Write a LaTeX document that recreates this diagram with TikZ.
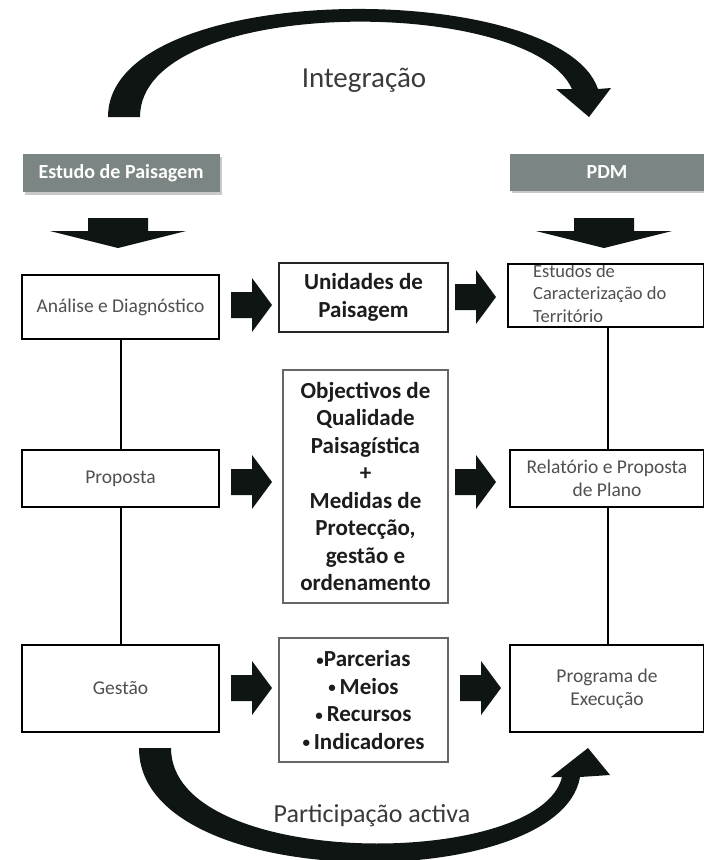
\documentclass[tikz,border=0pt]{standalone}
\usepackage{fontspec}
\setmainfont{Carlito}
\usetikzlibrary{calc,shadows}
\definecolor{hdrgrey}{HTML}{7B8583}
\definecolor{ink}{HTML}{0E1512}
\definecolor{txt}{HTML}{505050}
\definecolor{btxt}{HTML}{1C1C1C}
\definecolor{captxt}{HTML}{3A3A3A}
\newcommand\myblt{{\fontsize{15}{15}\selectfont\raisebox{1.5pt}{•}}}
% right-pointing block arrow: name, tip position
\newcommand\rblock[2]{%
  \coordinate (#1) at #2;
  \fill[ink] ($(#1)+(-41,-13)$) -- ($(#1)+(-20,-13)$) -- ($(#1)+(-20,-27)$) -- (#1)
    -- ($(#1)+(-20,27)$) -- ($(#1)+(-20,13)$) -- ($(#1)+(-41,13)$) -- cycle;}
% downward block arrow: name, tip position
\newcommand\dblock[2]{%
  \coordinate (#1) at #2;
  \fill[ink] ($(#1)+(-30,-30)$) -- ($(#1)+(30,-30)$) -- ($(#1)+(30,-17)$) -- ($(#1)+(68,-17)$)
    -- (#1) -- ($(#1)+(-68,-17)$) -- ($(#1)+(-30,-17)$) -- cycle;}
\begin{document}
\begin{tikzpicture}[x=1pt,y=-1pt,
  sidebox/.style={draw=black, line width=2.6pt, fill=white, inner sep=0pt, text=txt,
    font=\fontsize{19.5}{23}\selectfont, align=center},
  midbox/.style={draw=black!85, line width=2.2pt, fill=white, inner sep=0pt, text=btxt,
    font=\bfseries\fontsize{23}{28}\selectfont, align=center},
  thinbox/.style={draw=black!60, line width=1.3pt, fill=white, inner sep=0pt, text=btxt,
    font=\bfseries\fontsize{23}{27.5}\selectfont, align=center},
  hdrbox/.style={fill=hdrgrey, text=white, inner sep=0pt,
    font=\bfseries\fontsize{20}{22}\selectfont,
    drop shadow={shadow xshift=2pt, shadow yshift=-2.5pt, opacity=0.35, fill=black!60}},
  conn/.style={line width=2pt, draw=black},
  captext/.style={text=captxt, inner sep=0pt}
]
\useasboundingbox (0,0) rectangle (704,860);
\fill[white] (0,0) rectangle (704,860);

% top arc (Integração)
\fill[ink] (108,117) .. controls (108,-22) and (560,-22) .. (598,89) -- (611,88) -- (589,117)
  -- (556,89) -- (572,89) .. controls (530,-5) and (140,-5) .. (140,117) -- cycle;
\node[captext, font=\fontsize{29}{32}\selectfont] (integ) at (364,80) {Integração};

% headers
\node[hdrbox, minimum width=197pt, minimum height=38pt] (h1) at (121,173) {Estudo de Paisagem};
\node[hdrbox, minimum width=194pt, minimum height=37pt] (h2) at (607,172) {PDM};

% down arrows
\dblock{d1}{(118,248)}
\dblock{d2}{(604,248)}

% row 1
\node[sidebox, minimum width=197pt, minimum height=64pt] (a1) at (120.5,307) {Análise e Diagnóstico};
\node[midbox, minimum width=169pt, minimum height=69pt] (u1) at (363.5,297.5) {Unidades de\\Paisagem};
\node[anchor=north west, inner sep=0pt, text=txt, align=left,
  font=\fontsize{18.5}{22.5}\selectfont] (e1t) at (533,264) {Estudos de\\Caracterização do\\Território};
\node[draw=black, line width=2.6pt, inner sep=0pt, minimum width=196pt, minimum height=63pt] (e1) at (606,295.5) {};

% row 2
\node[sidebox, minimum width=197pt, minimum height=57pt] (p2) at (120.5,478.5) {Proposta};
\node[thinbox, minimum width=165pt, minimum height=233pt] (o2) at (365.5,486.5)
  {Objectivos de\\Qualidade\\Paisagística\\+\\Medidas de\\Protecção,\\gestão e\\ordenamento};
\node[sidebox, minimum width=194pt, minimum height=57pt] (r2) at (607,478.5) {Relatório e Proposta\\de Plano};

% row 3
\node[sidebox, minimum width=197pt, minimum height=87pt] (g3) at (120.5,688.5) {Gestão};
\node[thinbox, minimum width=169pt, minimum height=124pt] (b3) at (363.5,700)
  {\myblt Parcerias\\\myblt\,Meios\\\myblt\,Recursos\\\myblt\,Indicadores};
\node[sidebox, minimum width=194pt, minimum height=87pt] (x3) at (607,688.5) {Programa de\\Execução};

% vertical connectors
\draw[conn] (a1.south) -- (p2.north);
\draw[conn] (p2.south) -- (g3.north);
\draw[conn] (e1.south -| 608,0) -- (r2.north -| 608,0);
\draw[conn] (r2.south -| 608,0) -- (x3.north -| 608,0);

% block arrows
\rblock{ra1}{(272,305)}
\rblock{ra2}{(496,297)}
\rblock{rb1}{(272,482)}
\rblock{rb2}{(496,482)}
\rblock{rc1}{(272,688)}
\rblock{rc2}{(501,688)}

% bottom arc (Participação activa)
\fill[ink] (139,748) .. controls (139,895) and (560,895) .. (580,777) -- (610,775) -- (588,748)
  -- (551,777) -- (562,777) .. controls (540,870) and (171,870) .. (171,748) -- cycle;
\node[captext, font=\fontsize{26}{30}\selectfont] (part) at (372,816) {Participação activa};
\end{tikzpicture}
\end{document}
